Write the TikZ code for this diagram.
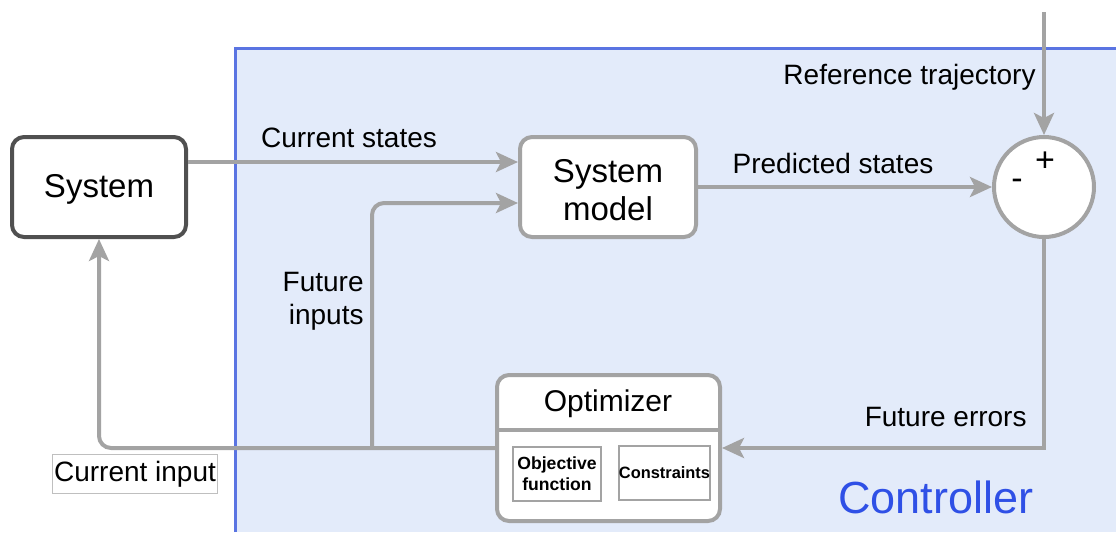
\documentclass[tikz,border=0pt]{standalone}
\usepackage{fontspec}
\setmainfont{Liberation Sans}
\usetikzlibrary{arrows.meta,calc}
\definecolor{ctrlfill}{HTML}{E3EBFA}
\definecolor{ctrlline}{HTML}{5A74E2}
\definecolor{ctrltext}{HTML}{2F50E6}
\definecolor{wire}{HTML}{A3A3A3}
\definecolor{darkedge}{HTML}{505050}
\tikzset{
  lbl/.style={font=\fontsize{14}{16.5}\selectfont, inner sep=0pt},
  block/.style={draw=wire, line width=2pt, fill=white, rounded corners=6pt,
    font=\fontsize{16.5}{19}\selectfont, align=center, inner sep=0pt},
  sub/.style={draw=wire, line width=1pt, fill=white, align=center, inner sep=0pt,
    font=\bfseries\fontsize{8.8}{10.5}\selectfont},
  wireline/.style={draw=wire, line width=2pt},
  flow/.style={wireline, -{Stealth[length=11pt,width=10pt,inset=2.5pt]}},
}
\begin{document}
\begin{tikzpicture}[x=0.5pt,y=-0.5pt]
\useasboundingbox (0,0) rectangle (1116,532);
\fill[white] (0,0) rectangle (1116,532);
% controller region
\fill[ctrlfill] (235,48) rectangle (1116,532);
\draw[ctrlline, line width=1.5pt] (235,532) -- (235,48) -- (1116,48);
\node[font=\fontsize{22.5}{26}\selectfont, text=ctrltext, inner sep=0pt] (ctrl) at (936,497) {Controller};

% blocks
\node[block, draw=darkedge, minimum width=87pt, minimum height=50pt] (sys) at (99,187) {};
\node[font=\fontsize{16.5}{19}\selectfont, inner sep=0pt] (systext) at (99,189) {System};
\node[block, minimum width=88pt, minimum height=50pt] (model) at (608,187) {};
\node[font=\fontsize{16.5}{19}\selectfont, align=center, inner sep=0pt] (modeltext) at (608,190) {System\\model};
\node[circle, draw=wire, line width=2pt, fill=white, minimum size=50pt, inner sep=0pt] (circ) at (1044,187) {};
\node[font=\fontsize{17}{19}\selectfont, inner sep=0pt] (plus) at (1045,162) {+};
\node[font=\fontsize{17}{19}\selectfont, inner sep=0pt] (minus) at (1017,184) {-};

% optimizer with its two parts
\node[block, minimum width=111.5pt, minimum height=73pt] (opt) at (608.5,448) {};
\draw[wire, line width=2pt] (opt.west |- 0,430) -- (opt.east |- 0,430);
\node[font=\fontsize{15}{18}\selectfont, inner sep=0pt] (opttitle) at (608,404) {Optimizer};
\node[sub, minimum width=44pt, minimum height=27pt] (obj) at (557,474) {Objective\\function};
\node[sub, minimum width=44.5pt, minimum height=27pt, font=\bfseries\fontsize{8.2}{10}\selectfont] (cons) at (664.5,473) {Constraints};

% connectors
\coordinate (refin) at (1044,12);
\coordinate (errcorner) at (1044,448);
\coordinate (split) at (372,448);
\draw[flow] (refin) -- (circ.north);
\draw[flow] ($(sys.east)+(0,-25)$) -- ($(model.west)+(0,-25)$);
\draw[flow] (model.east) -- (circ.west);
\draw[flow] (circ.south) -- (errcorner) -- (opt.east);
\draw[flow, rounded corners=6pt] (opt.west) -| (sys.south);
\draw[flow, rounded corners=6pt] (split) |- ($(model.west)+(0,16)$);

% labels
\node[lbl] (lcs) at (349,138) {Current states};
\node[lbl] (lps) at (833,163) {Predicted states};
\node[lbl, anchor=east] (lref) at (1036,77) {Reference trajectory};
\node[lbl, anchor=east] (lerr) at (1027,417) {Future errors};
\node[lbl, anchor=east, align=right] (lfi) at (364,301) {Future\\inputs};
\node[lbl, draw=black!25, line width=0.5pt, fill=white, inner xsep=1pt, inner ysep=3pt] (lci) at (135,474) {Current input};
\end{tikzpicture}
\end{document}
